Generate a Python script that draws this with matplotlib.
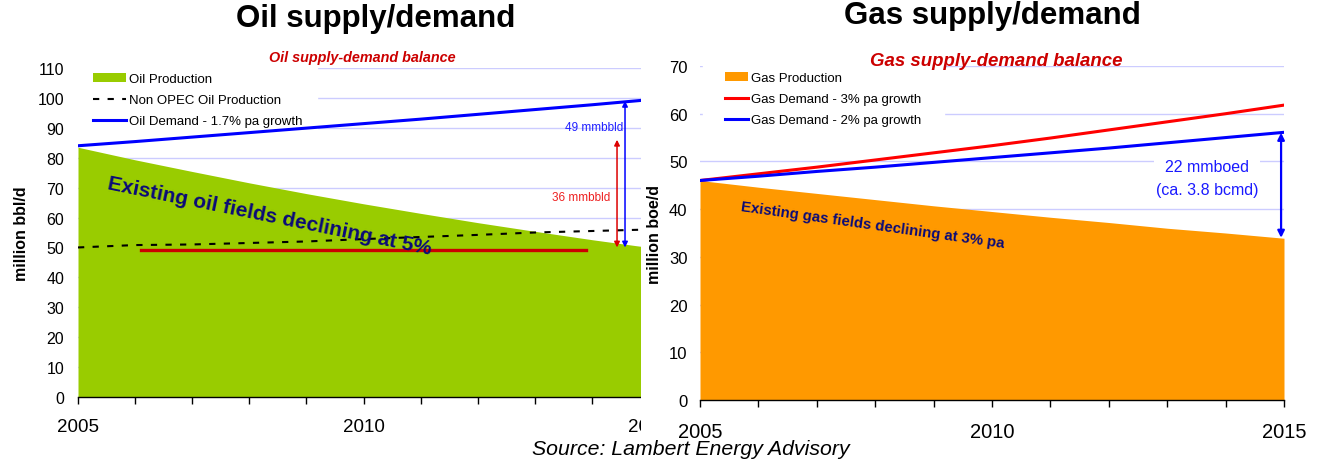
import matplotlib
matplotlib.use("Agg")
import matplotlib.pyplot as plt
from matplotlib.patches import Rectangle, Patch
from matplotlib.lines import Line2D

plt.rcParams['font.family'] = ['Liberation Sans', 'DejaVu Sans']

# ---- data ----
years = [2005, 2006, 2007, 2008, 2009, 2010, 2011, 2012, 2013, 2014, 2015]

oil_production = [83.5, 79.3, 75.4, 71.6, 68.0, 64.6, 61.4, 58.3, 55.4, 52.6, 50.0]
oil_demand = [84.0, 85.4, 86.9, 88.4, 89.9, 91.4, 92.9, 94.5, 96.1, 97.7, 99.4]
non_opec = [50.0, 50.8, 51.0, 51.5, 52.0, 52.8, 53.5, 54.2, 55.0, 55.5, 56.0]
opec_line_x = [2006.1, 2013.9]
opec_line_y = [49.3, 49.3]
oil_gap_base = 50
oil_gap_small = 36
oil_gap_large = 49

gas_production = [46.0, 44.6, 43.3, 42.0, 40.7, 39.5, 38.3, 37.2, 36.0, 35.0, 33.9]
gas_demand_3 = [46.0, 47.4, 48.8, 50.3, 51.8, 53.3, 54.9, 56.6, 58.3, 60.0, 61.8]
gas_demand_2 = [46.0, 46.9, 47.9, 48.8, 49.8, 50.8, 51.8, 52.8, 53.9, 55.0, 56.1]
gas_gap_top = 56
gas_gap = 22

major_years = [2005, 2010, 2015]
oil_yticks = list(range(0, 111, 10))
gas_yticks = list(range(0, 71, 10))

# ---- colours ----
GREEN = '#99cc00'
ORANGE = '#ff9900'
BLUE = '#0000ff'
RED = '#ff0000'
DARKRED = '#cc0000'
NAVY = '#0a0a78'
GRID = '#ccccff'

W, H = 1317, 464
fig = plt.figure(figsize=(W / 100, H / 100), dpi=100)


def frac_box(x0, x1, ytop, ybot):
    return [x0 / W, 1 - ybot / H, (x1 - x0) / W, (ybot - ytop) / H]


ax1 = fig.add_axes(frac_box(78, 649, 69, 398), zorder=0)
ax2 = fig.add_axes(frac_box(700, 1284, 67, 401), zorder=2)

# white panel so the gas chart sits over the right edge of the oil chart
fig.patches.append(Rectangle((641 / W, 0), 1, 1, transform=fig.transFigure,
                             facecolor='white', edgecolor='none', zorder=1))


def style_axis(ax, ylim, yticks, ylabsize, xlabsize, xpad, ypad):
    ax.set_xlim(2005, 2015)
    ax.set_ylim(*ylim)
    ax.set_yticks(yticks)
    ax.set_xticks(major_years)
    ax.set_xticks(years, minor=True)
    ax.set_xticklabels([str(y) for y in major_years])
    for s in ['left', 'right', 'top']:
        ax.spines[s].set_visible(False)
    ax.spines['bottom'].set_color('black')
    ax.spines['bottom'].set_linewidth(1.0)
    ax.tick_params(axis='y', length=0, labelsize=ylabsize, pad=ypad)
    ax.tick_params(axis='x', which='both', direction='out', length=5,
                   width=1, color='black', labelsize=xlabsize, pad=xpad)
    ax.set_axisbelow(True)
    ax.yaxis.grid(True, color=GRID, linewidth=1)
    ax.xaxis.grid(False)


# ---- oil chart ----
style_axis(ax1, (0, 110), oil_yticks, 11.5, 13.5, 10, 10)
ax1.fill_between(years, 0, oil_production, color=GREEN, linewidth=0, zorder=1)
ax1.plot(years, oil_demand, color=BLUE, linewidth=2.2, zorder=3)
ax1.plot(years, non_opec, color='black', linewidth=1.5,
         linestyle=(0, (3, 4)), zorder=3)
ax1.plot(opec_line_x, opec_line_y, color=DARKRED, linewidth=2.4, zorder=3)

ax1.annotate('', xy=(2014.44, oil_gap_base), xytext=(2014.44, oil_gap_base + oil_gap_small),
             arrowprops=dict(arrowstyle='<|-|>', color='#dd0000', lw=1.1,
                             mutation_scale=8, shrinkA=0, shrinkB=0), zorder=4)
ax1.annotate('', xy=(2014.58, oil_gap_base), xytext=(2014.58, oil_gap_base + oil_gap_large),
             arrowprops=dict(arrowstyle='<|-|>', color=BLUE, lw=1.1,
                             mutation_scale=8, shrinkA=0, shrinkB=0), zorder=4)
ax1.text(2014.04, 90.3, f'{oil_gap_large} mmbbld', color='#2020ff', fontsize=8.5,
         ha='center', va='center', zorder=4)
ax1.text(2013.81, 66.9, f'{oil_gap_small} mmbbld', color='#ee2020', fontsize=8.5,
         ha='center', va='center', zorder=4)
ax1.text(2008.36, 60.5, 'Existing oil fields declining at 5%', color=NAVY,
         fontsize=15, fontweight='bold', rotation=-11.5, rotation_mode='anchor',
         ha='center', va='center', zorder=4)
ax1.set_ylabel('million bbl/d', fontsize=11.5, fontweight='bold')
ax1.yaxis.set_label_coords(-0.086, 0.5)

oil_handles = [Patch(facecolor=GREEN, edgecolor='none'),
               Line2D([], [], color='black', linewidth=1.5, linestyle=(0, (3, 4))),
               Line2D([], [], color=BLUE, linewidth=2.2)]
leg1 = ax1.legend(oil_handles, ['Oil Production', 'Non OPEC Oil Production',
                                'Oil Demand - 1.7% pa growth'],
                  loc='upper left', bbox_to_anchor=(0.0, 1.028), fontsize=9.5,
                  frameon=True, facecolor='white', edgecolor='white', framealpha=1,
                  fancybox=False, handlelength=2.5, handleheight=0.6,
                  handletextpad=0.25, labelspacing=0.68, borderpad=1.1,
                  borderaxespad=0.0)
leg1.set_zorder(2)

# ---- gas chart ----
style_axis(ax2, (0, 70), gas_yticks, 12, 14.5, 11, 9)
ax2.fill_between(years, 0, gas_production, color=ORANGE, linewidth=0, zorder=1)
ax2.plot(years, gas_demand_3, color=RED, linewidth=2.2, zorder=3)
ax2.plot(years, gas_demand_2, color=BLUE, linewidth=2.2, zorder=3)
ax2.annotate('', xy=(2014.95, gas_gap_top - gas_gap), xytext=(2014.95, gas_gap_top),
             arrowprops=dict(arrowstyle='<|-|>', color=BLUE, lw=1.6,
                             mutation_scale=10, shrinkA=0, shrinkB=0), zorder=4)
ax2.text(2013.68, 46.5, f'{gas_gap} mmboed\n(ca. 3.8 bcmd)', color='#1a1aff',
         fontsize=11.5, ha='center', va='center', linespacing=1.7, zorder=4,
         bbox=dict(facecolor='white', edgecolor='none', pad=1))
ax2.text(2007.95, 36.7, 'Existing gas fields declining at 3% pa', color=NAVY,
         fontsize=10.8, fontweight='bold', rotation=-8, rotation_mode='anchor',
         ha='center', va='center', zorder=4)
ax2.set_ylabel('million boe/d', fontsize=11.5, fontweight='bold')
ax2.yaxis.set_label_coords(-0.065, 0.5)

gas_handles = [Patch(facecolor=ORANGE, edgecolor='none'),
               Line2D([], [], color=RED, linewidth=2.2),
               Line2D([], [], color=BLUE, linewidth=2.2)]
leg2 = ax2.legend(gas_handles, ['Gas Production', 'Gas Demand - 3% pa growth',
                                'Gas Demand - 2% pa growth'],
                  loc='upper left', bbox_to_anchor=(0.005, 1.047), fontsize=9.5,
                  frameon=True, facecolor='white', edgecolor='white', framealpha=1,
                  fancybox=False, handlelength=1.75, handleheight=0.6,
                  handletextpad=0.25, labelspacing=0.68, borderpad=1.67,
                  borderaxespad=0.0)
leg2.set_zorder(2)

# ---- titles and source ----
fig.text(375.5 / W, 1 - 19.5 / H, 'Oil supply/demand', fontsize=22.5, fontweight='bold',
         ha='center', va='center', zorder=3)
fig.text(992 / W, 1 - 16 / H, 'Gas supply/demand', fontsize=22.5, fontweight='bold',
         ha='center', va='center', zorder=3)
fig.text(362 / W, 1 - 58 / H, 'Oil supply-demand balance', fontsize=10.4,
         fontweight='bold', fontstyle='italic', color=DARKRED,
         ha='center', va='center', zorder=3)
fig.text(996 / W, 1 - 61 / H, 'Gas supply-demand balance', fontsize=13.4,
         fontweight='bold', fontstyle='italic', color=DARKRED,
         ha='center', va='center', zorder=3)
fig.text(691 / W, 1 - 450 / H, 'Source: Lambert Energy Advisory', fontsize=15.3,
         fontstyle='italic', ha='center', va='center', zorder=3)

fig.savefig('out.png', dpi=100)
